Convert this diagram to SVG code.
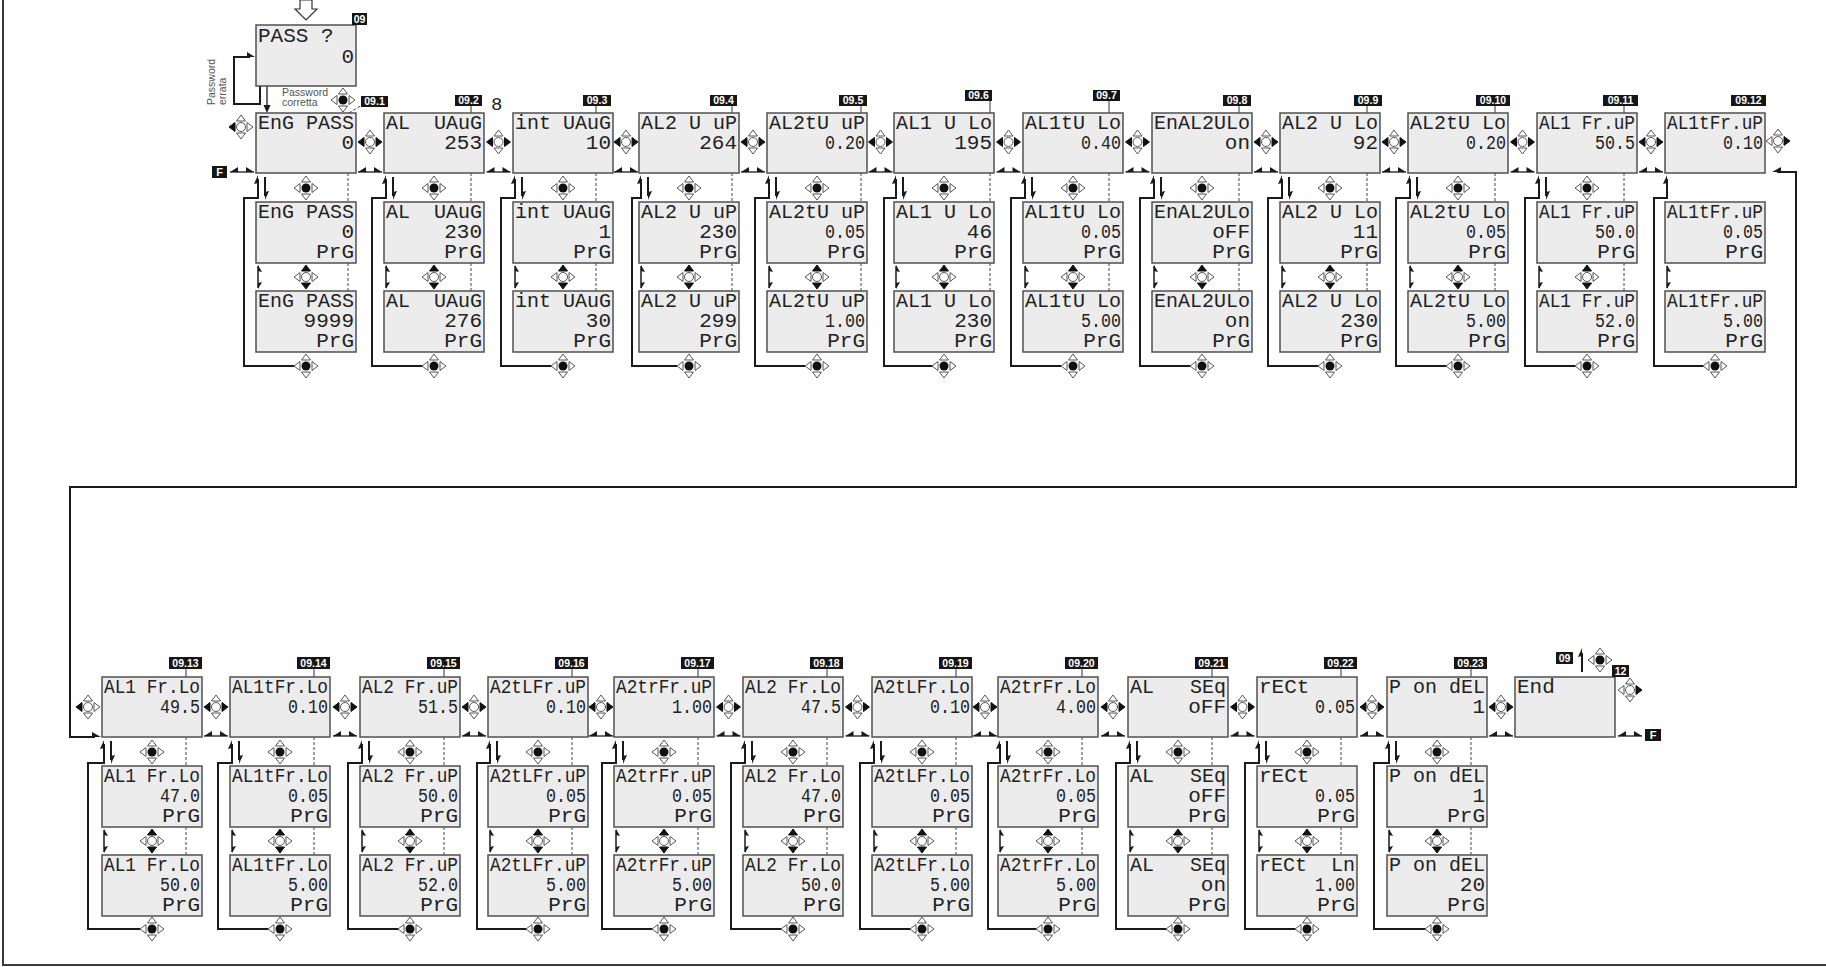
<svg xmlns="http://www.w3.org/2000/svg" width="1826" height="967" viewBox="0 0 1826 967">
<style>
.box{fill:#ececec;stroke:#505050;stroke-width:1.5}
.t{font-family:"Liberation Mono","DejaVu Sans Mono",monospace;font-size:21px;fill:#222;white-space:pre}
.e{text-anchor:end}
.lb{fill:#161616}
.lt{font-family:"Liberation Sans",Arial,sans-serif;font-size:10.5px;font-weight:bold;fill:#fff;text-anchor:middle}
.ln{fill:none;stroke:#1a1a1a;stroke-width:2}
.th{fill:none;stroke:#1a1a1a;stroke-width:1.3}
.ds{fill:none;stroke:#444;stroke-width:1;stroke-dasharray:3 2}
.ah{fill:#1a1a1a}
.kh{fill:#fff;stroke:#555;stroke-width:1}
.kf{fill:#111;stroke:#111;stroke-width:1}
.note{font-family:"Liberation Sans",Arial,sans-serif;font-size:10.5px;fill:#555}
</style>
<defs>
<g id="kc"><polygon class="kh" points="0,-12 -4.5,-6 4.5,-6"/><polygon class="kh" points="0,12 -4.5,6 4.5,6"/><polygon class="kh" points="-12,0 -6,-4.5 -6,4.5"/><polygon class="kh" points="12,0 6,-4.5 6,4.5"/><circle r="4.5" fill="#111"/></g>
<g id="kb"><polygon class="kh" points="0,-12 -4.5,-6 4.5,-6"/><polygon class="kh" points="0,12 -4.5,6 4.5,6"/><polygon class="kf" points="-12,0 -6,-4.5 -6,4.5"/><polygon class="kf" points="12,0 6,-4.5 6,4.5"/><circle r="4.5" class="kh"/></g>
<g id="kv"><polygon class="kf" points="0,-12 -4.5,-6 4.5,-6"/><polygon class="kf" points="0,12 -4.5,6 4.5,6"/><polygon class="kh" points="-12,0 -6,-4.5 -6,4.5"/><polygon class="kh" points="12,0 6,-4.5 6,4.5"/><circle r="4.5" class="kh"/></g>
<g id="kl"><polygon class="kh" points="0,-12 -4.5,-6 4.5,-6"/><polygon class="kh" points="0,12 -4.5,6 4.5,6"/><polygon class="kf" points="-12,0 -6,-4.5 -6,4.5"/><polygon class="kh" points="12,0 6,-4.5 6,4.5"/><circle r="4.5" class="kh"/></g>
<g id="kr"><polygon class="kh" points="0,-12 -4.5,-6 4.5,-6"/><polygon class="kh" points="0,12 -4.5,6 4.5,6"/><polygon class="kh" points="-12,0 -6,-4.5 -6,4.5"/><polygon class="kf" points="12,0 6,-4.5 6,4.5"/><circle r="4.5" class="kh"/></g>
<g id="hp"><path d="M-12,0H12" stroke="#1a1a1a" stroke-width="1.3"/><polygon class="ah" points="-12,0 -4,-5 -4,0"/><polygon class="ah" points="12,0 4,-5 4,0"/></g>
<polygon id="hu" class="ah" points="0,0 -4,9 0,8"/>
<g id="da"><path d="M0,0V19" stroke="#1a1a1a" stroke-width="2"/><polygon class="ah" points="0,23 4,14 0,15"/></g>
<g id="bk"><path d="M0,0V22" stroke="#1a1a1a" stroke-width="1.5"/><polygon class="ah" points="0,-1 4,6 0,5"/><polygon class="ah" points="0,23 4,16 0,17"/></g>
</defs>
<rect width="1826" height="967" fill="#fff"/>
<g id="frame"><path d="M3,0V965H1826" fill="none" stroke="#3a3a3a" stroke-width="2"/></g>

<g id="connectors">
<polygon points="300,0 312,0 312,9 317,9 306,20 295,9 300,9" fill="#fff" stroke="#333" stroke-width="1.2"/>
<path class="ln" d="M260,86V104H234V57H250"/><polygon class="ah" points="255,57 247,52 247,57"/>
<path class="th" d="M267,86V107"/><polygon class="ah" points="267,113 263.5,105 270.5,105"/>
<path class="ds" d="M349,113L362,105"/>
<path class="ln" d="M294,366H244V198H258V179M422,366H372V198H386V179M551,366H501V198H515V179M677,366H632V198H641V179M805,366H755V198H769V179M932,366H884V198H896V179M1061,366H1011V198H1025V179M1190,366H1140V198H1154V179M1318,366H1268V198H1282V179M1446,366H1396V198H1410V179M1575,366H1525V198H1539V179M1703,366H1654V198H1667V179"/>
<path class="ln" d="M140,929H88V763H104V744M268,929H218V763H232V744M398,929H348V763H362V744M526,929H477V763H490V744M652,929H602V763H616V744M781,929H731V763H745V744M910,929H860V763H874V744M1036,929H988V763H1000V744M1166,929H1116V763H1130V744M1295,929H1245V763H1259V744M1425,929H1374V763H1389V744"/>
<g>
<use href="#hu" x="258" y="175"/><use href="#hu" x="386" y="175"/><use href="#hu" x="515" y="175"/><use href="#hu" x="641" y="175"/><use href="#hu" x="769" y="175"/><use href="#hu" x="896" y="175"/><use href="#hu" x="1025" y="175"/><use href="#hu" x="1154" y="175"/><use href="#hu" x="1282" y="175"/><use href="#hu" x="1410" y="175"/><use href="#hu" x="1539" y="175"/><use href="#hu" x="1667" y="175"/>
<use href="#hu" x="104" y="740"/><use href="#hu" x="232" y="740"/><use href="#hu" x="362" y="740"/><use href="#hu" x="490" y="740"/><use href="#hu" x="616" y="740"/><use href="#hu" x="745" y="740"/><use href="#hu" x="874" y="740"/><use href="#hu" x="1000" y="740"/><use href="#hu" x="1130" y="740"/><use href="#hu" x="1259" y="740"/><use href="#hu" x="1389" y="740"/>
<use href="#da" x="265" y="177"/><use href="#da" x="393" y="177"/><use href="#da" x="522" y="177"/><use href="#da" x="648" y="177"/><use href="#da" x="776" y="177"/><use href="#da" x="903" y="177"/><use href="#da" x="1032" y="177"/><use href="#da" x="1161" y="177"/><use href="#da" x="1289" y="177"/><use href="#da" x="1417" y="177"/><use href="#da" x="1546" y="177"/>
<use href="#da" x="111" y="741"/><use href="#da" x="239" y="741"/><use href="#da" x="369" y="741"/><use href="#da" x="497" y="741"/><use href="#da" x="623" y="741"/><use href="#da" x="752" y="741"/><use href="#da" x="881" y="741"/><use href="#da" x="1007" y="741"/><use href="#da" x="1137" y="741"/><use href="#da" x="1266" y="741"/><use href="#da" x="1396" y="741"/>
<use href="#bk" x="258" y="266"/><use href="#bk" x="386" y="266"/><use href="#bk" x="515" y="266"/><use href="#bk" x="641" y="266"/><use href="#bk" x="769" y="266"/><use href="#bk" x="896" y="266"/><use href="#bk" x="1025" y="266"/><use href="#bk" x="1154" y="266"/><use href="#bk" x="1282" y="266"/><use href="#bk" x="1410" y="266"/><use href="#bk" x="1539" y="266"/><use href="#bk" x="1667" y="266"/>
<use href="#bk" x="104" y="830"/><use href="#bk" x="232" y="830"/><use href="#bk" x="362" y="830"/><use href="#bk" x="490" y="830"/><use href="#bk" x="616" y="830"/><use href="#bk" x="745" y="830"/><use href="#bk" x="874" y="830"/><use href="#bk" x="1000" y="830"/><use href="#bk" x="1130" y="830"/><use href="#bk" x="1259" y="830"/><use href="#bk" x="1389" y="830"/>
</g>
<path class="ds" d="M348,173V202M348,263V291M471,173V202M471,263V291M596,173V202M596,263V291M732,173V202M732,263V291M861,173V202M861,263V291M990,173V202M990,263V291M1109,173V202M1109,263V291M1239,173V202M1239,263V291M1367,173V202M1367,263V291M1495,173V202M1495,263V291M1624,173V202M1624,263V291"/>
<path class="ds" d="M186,737V766M186,827V855M314,737V766M314,827V855M444,737V766M444,827V855M572,737V766M572,827V855M698,737V766M698,827V855M827,737V766M827,827V855M956,737V766M956,827V855M1082,737V766M1082,827V855M1212,737V766M1212,827V855M1341,737V766M1341,827V855M1471,737V766M1471,827V855"/>
<path d="M471,106V113M596,106V113M732,106V113M861,106V113M990,101V113M1109,101V113M1239,106V113M1367,106V113M1495,106V113M1624,106V113M186,669V677M314,669V677M444,669V677M572,669V677M698,669V677M827,669V677M956,669V677M1082,669V677M1212,669V677M1341,669V677M1471,669V677" stroke="#333" stroke-width="1"/>
<g>
<use href="#hp" x="242" y="172"/><use href="#hp" x="370" y="172"/><use href="#hp" x="498.5" y="172"/><use href="#hp" x="626" y="172"/><use href="#hp" x="753" y="172"/><use href="#hp" x="880.5" y="172"/><use href="#hp" x="1008.5" y="172"/><use href="#hp" x="1137.5" y="172"/><use href="#hp" x="1266" y="172"/><use href="#hp" x="1394" y="172"/><use href="#hp" x="1522.5" y="172"/><use href="#hp" x="1651" y="172"/>
<use href="#hp" x="216" y="736"/><use href="#hp" x="345" y="736"/><use href="#hp" x="474" y="736"/><use href="#hp" x="601" y="736"/><use href="#hp" x="728.5" y="736"/><use href="#hp" x="857.5" y="736"/><use href="#hp" x="985" y="736"/><use href="#hp" x="1113" y="736"/><use href="#hp" x="1242.5" y="736"/><use href="#hp" x="1372" y="736"/><use href="#hp" x="1501" y="736"/><use href="#hp" x="1630" y="736"/>
</g>
<path class="ln" d="M1777,172H1796V487H70V737H95"/>
<polygon class="ah" points="1772,172 1781,167 1781,172"/>
<polygon class="ah" points="101,737 92,732 92,737"/>
<path class="ln" d="M1582,672V653"/><use href="#hu" x="1582" y="648"/>
</g>

<g id="keys">
<use href="#kl" x="241" y="127"/><use href="#kc" x="343" y="100"/><use href="#kr" x="1778" y="141"/>
<use href="#kb" x="370" y="142"/><use href="#kb" x="498.5" y="142"/><use href="#kb" x="626" y="142"/><use href="#kb" x="753" y="142"/><use href="#kb" x="880.5" y="142"/><use href="#kb" x="1008.5" y="142"/><use href="#kb" x="1137.5" y="142"/><use href="#kb" x="1266" y="142"/><use href="#kb" x="1394" y="142"/><use href="#kb" x="1522.5" y="142"/><use href="#kb" x="1651" y="142"/>
<use href="#kc" x="306" y="188"/><use href="#kc" x="434" y="188"/><use href="#kc" x="563" y="188"/><use href="#kc" x="689" y="188"/><use href="#kc" x="817" y="188"/><use href="#kc" x="944" y="188"/><use href="#kc" x="1073" y="188"/><use href="#kc" x="1202" y="188"/><use href="#kc" x="1330" y="188"/><use href="#kc" x="1458" y="188"/><use href="#kc" x="1587" y="188"/>
<use href="#kv" x="306" y="277"/><use href="#kv" x="434" y="277"/><use href="#kv" x="563" y="277"/><use href="#kv" x="689" y="277"/><use href="#kv" x="817" y="277"/><use href="#kv" x="944" y="277"/><use href="#kv" x="1073" y="277"/><use href="#kv" x="1202" y="277"/><use href="#kv" x="1330" y="277"/><use href="#kv" x="1458" y="277"/><use href="#kv" x="1587" y="277"/>
<use href="#kc" x="306" y="366"/><use href="#kc" x="434" y="366"/><use href="#kc" x="563" y="366"/><use href="#kc" x="689" y="366"/><use href="#kc" x="817" y="366"/><use href="#kc" x="944" y="366"/><use href="#kc" x="1073" y="366"/><use href="#kc" x="1202" y="366"/><use href="#kc" x="1330" y="366"/><use href="#kc" x="1458" y="366"/><use href="#kc" x="1587" y="366"/><use href="#kc" x="1715" y="366"/>
<use href="#kl" x="88" y="707"/><use href="#kr" x="1630" y="690"/><use href="#kc" x="1600" y="660"/>
<use href="#kb" x="216" y="707"/><use href="#kb" x="345" y="707"/><use href="#kb" x="474" y="707"/><use href="#kb" x="601" y="707"/><use href="#kb" x="728.5" y="707"/><use href="#kb" x="857.5" y="707"/><use href="#kb" x="985" y="707"/><use href="#kb" x="1113" y="707"/><use href="#kb" x="1242.5" y="707"/><use href="#kb" x="1372" y="707"/><use href="#kb" x="1501" y="707"/>
<use href="#kc" x="152" y="752"/><use href="#kc" x="280" y="752"/><use href="#kc" x="410" y="752"/><use href="#kc" x="538" y="752"/><use href="#kc" x="664" y="752"/><use href="#kc" x="793" y="752"/><use href="#kc" x="922" y="752"/><use href="#kc" x="1048" y="752"/><use href="#kc" x="1178" y="752"/><use href="#kc" x="1307" y="752"/><use href="#kc" x="1437" y="752"/>
<use href="#kv" x="152" y="841"/><use href="#kv" x="280" y="841"/><use href="#kv" x="410" y="841"/><use href="#kv" x="538" y="841"/><use href="#kv" x="664" y="841"/><use href="#kv" x="793" y="841"/><use href="#kv" x="922" y="841"/><use href="#kv" x="1048" y="841"/><use href="#kv" x="1178" y="841"/><use href="#kv" x="1307" y="841"/><use href="#kv" x="1437" y="841"/>
<use href="#kc" x="152" y="929"/><use href="#kc" x="280" y="929"/><use href="#kc" x="410" y="929"/><use href="#kc" x="538" y="929"/><use href="#kc" x="664" y="929"/><use href="#kc" x="793" y="929"/><use href="#kc" x="922" y="929"/><use href="#kc" x="1048" y="929"/><use href="#kc" x="1178" y="929"/><use href="#kc" x="1307" y="929"/><use href="#kc" x="1437" y="929"/>
</g>

<g id="notes">
<text class="note" x="282" y="96">Password</text>
<text class="note" x="282" y="106">corretta</text>
<text class="note" transform="translate(215,105) rotate(-90)">Password</text>
<text class="note" transform="translate(226,105) rotate(-90)">errata</text>
<text class="t" x="491" y="110" style="font-size:19px">8</text>
</g>

<g id="nodes">
<g id="n09" transform="translate(256,25)"><rect class="box" width="100" height="61"/><text class="t" x="2" y="17">PASS ?</text><text class="t e" x="98" y="38">0</text></g>

<g id="n09-1" transform="translate(256,113)"><rect class="box" width="100" height="60"/><text class="t" x="2" y="16" textLength="96" lengthAdjust="spacingAndGlyphs">EnG PASS</text><text class="t e" x="98" y="36">0</text></g>
<g id="n09-1-a" transform="translate(256,202)"><rect class="box" width="100" height="61"/><text class="t" x="2" y="16" textLength="96" lengthAdjust="spacingAndGlyphs">EnG PASS</text><text class="t e" x="98" y="36">0</text><text class="t e" x="98" y="56">PrG</text></g>
<g id="n09-1-b" transform="translate(256,291)"><rect class="box" width="100" height="61"/><text class="t" x="2" y="16" textLength="96" lengthAdjust="spacingAndGlyphs">EnG PASS</text><text class="t e" x="98" y="36">9999</text><text class="t e" x="98" y="56">PrG</text></g>

<g id="n09-2" transform="translate(384,113)"><rect class="box" width="100" height="60"/><text class="t" x="2" y="16" textLength="96" lengthAdjust="spacingAndGlyphs">AL  UAuG</text><text class="t e" x="98" y="36">253</text></g>
<g id="n09-2-a" transform="translate(384,202)"><rect class="box" width="100" height="61"/><text class="t" x="2" y="16" textLength="96" lengthAdjust="spacingAndGlyphs">AL  UAuG</text><text class="t e" x="98" y="36">230</text><text class="t e" x="98" y="56">PrG</text></g>
<g id="n09-2-b" transform="translate(384,291)"><rect class="box" width="100" height="61"/><text class="t" x="2" y="16" textLength="96" lengthAdjust="spacingAndGlyphs">AL  UAuG</text><text class="t e" x="98" y="36">276</text><text class="t e" x="98" y="56">PrG</text></g>

<g id="n09-3" transform="translate(513,113)"><rect class="box" width="100" height="60"/><text class="t" x="2" y="16" textLength="96" lengthAdjust="spacingAndGlyphs">int UAuG</text><text class="t e" x="98" y="36">10</text></g>
<g id="n09-3-a" transform="translate(513,202)"><rect class="box" width="100" height="61"/><text class="t" x="2" y="16" textLength="96" lengthAdjust="spacingAndGlyphs">int UAuG</text><text class="t e" x="98" y="36">1</text><text class="t e" x="98" y="56">PrG</text></g>
<g id="n09-3-b" transform="translate(513,291)"><rect class="box" width="100" height="61"/><text class="t" x="2" y="16" textLength="96" lengthAdjust="spacingAndGlyphs">int UAuG</text><text class="t e" x="98" y="36">30</text><text class="t e" x="98" y="56">PrG</text></g>

<g id="n09-4" transform="translate(639,113)"><rect class="box" width="100" height="60"/><text class="t" x="2" y="16" textLength="96" lengthAdjust="spacingAndGlyphs">AL2 U uP</text><text class="t e" x="98" y="36">264</text></g>
<g id="n09-4-a" transform="translate(639,202)"><rect class="box" width="100" height="61"/><text class="t" x="2" y="16" textLength="96" lengthAdjust="spacingAndGlyphs">AL2 U uP</text><text class="t e" x="98" y="36">230</text><text class="t e" x="98" y="56">PrG</text></g>
<g id="n09-4-b" transform="translate(639,291)"><rect class="box" width="100" height="61"/><text class="t" x="2" y="16" textLength="96" lengthAdjust="spacingAndGlyphs">AL2 U uP</text><text class="t e" x="98" y="36">299</text><text class="t e" x="98" y="56">PrG</text></g>

<g id="n09-5" transform="translate(767,113)"><rect class="box" width="100" height="60"/><text class="t" x="2" y="16" textLength="96" lengthAdjust="spacingAndGlyphs">AL2tU uP</text><text class="t e" x="98" y="36" textLength="40" lengthAdjust="spacingAndGlyphs">0.20</text></g>
<g id="n09-5-a" transform="translate(767,202)"><rect class="box" width="100" height="61"/><text class="t" x="2" y="16" textLength="96" lengthAdjust="spacingAndGlyphs">AL2tU uP</text><text class="t e" x="98" y="36" textLength="40" lengthAdjust="spacingAndGlyphs">0.05</text><text class="t e" x="98" y="56">PrG</text></g>
<g id="n09-5-b" transform="translate(767,291)"><rect class="box" width="100" height="61"/><text class="t" x="2" y="16" textLength="96" lengthAdjust="spacingAndGlyphs">AL2tU uP</text><text class="t e" x="98" y="36" textLength="40" lengthAdjust="spacingAndGlyphs">1.00</text><text class="t e" x="98" y="56">PrG</text></g>

<g id="n09-6" transform="translate(894,113)"><rect class="box" width="100" height="60"/><text class="t" x="2" y="16" textLength="96" lengthAdjust="spacingAndGlyphs">AL1 U Lo</text><text class="t e" x="98" y="36">195</text></g>
<g id="n09-6-a" transform="translate(894,202)"><rect class="box" width="100" height="61"/><text class="t" x="2" y="16" textLength="96" lengthAdjust="spacingAndGlyphs">AL1 U Lo</text><text class="t e" x="98" y="36">46</text><text class="t e" x="98" y="56">PrG</text></g>
<g id="n09-6-b" transform="translate(894,291)"><rect class="box" width="100" height="61"/><text class="t" x="2" y="16" textLength="96" lengthAdjust="spacingAndGlyphs">AL1 U Lo</text><text class="t e" x="98" y="36">230</text><text class="t e" x="98" y="56">PrG</text></g>

<g id="n09-7" transform="translate(1023,113)"><rect class="box" width="100" height="60"/><text class="t" x="2" y="16" textLength="96" lengthAdjust="spacingAndGlyphs">AL1tU Lo</text><text class="t e" x="98" y="36" textLength="40" lengthAdjust="spacingAndGlyphs">0.40</text></g>
<g id="n09-7-a" transform="translate(1023,202)"><rect class="box" width="100" height="61"/><text class="t" x="2" y="16" textLength="96" lengthAdjust="spacingAndGlyphs">AL1tU Lo</text><text class="t e" x="98" y="36" textLength="40" lengthAdjust="spacingAndGlyphs">0.05</text><text class="t e" x="98" y="56">PrG</text></g>
<g id="n09-7-b" transform="translate(1023,291)"><rect class="box" width="100" height="61"/><text class="t" x="2" y="16" textLength="96" lengthAdjust="spacingAndGlyphs">AL1tU Lo</text><text class="t e" x="98" y="36" textLength="40" lengthAdjust="spacingAndGlyphs">5.00</text><text class="t e" x="98" y="56">PrG</text></g>

<g id="n09-8" transform="translate(1152,113)"><rect class="box" width="100" height="60"/><text class="t" x="2" y="16" textLength="96" lengthAdjust="spacingAndGlyphs">EnAL2ULo</text><text class="t e" x="98" y="36">on</text></g>
<g id="n09-8-a" transform="translate(1152,202)"><rect class="box" width="100" height="61"/><text class="t" x="2" y="16" textLength="96" lengthAdjust="spacingAndGlyphs">EnAL2ULo</text><text class="t e" x="98" y="36">oFF</text><text class="t e" x="98" y="56">PrG</text></g>
<g id="n09-8-b" transform="translate(1152,291)"><rect class="box" width="100" height="61"/><text class="t" x="2" y="16" textLength="96" lengthAdjust="spacingAndGlyphs">EnAL2ULo</text><text class="t e" x="98" y="36">on</text><text class="t e" x="98" y="56">PrG</text></g>

<g id="n09-9" transform="translate(1280,113)"><rect class="box" width="100" height="60"/><text class="t" x="2" y="16" textLength="96" lengthAdjust="spacingAndGlyphs">AL2 U Lo</text><text class="t e" x="98" y="36">92</text></g>
<g id="n09-9-a" transform="translate(1280,202)"><rect class="box" width="100" height="61"/><text class="t" x="2" y="16" textLength="96" lengthAdjust="spacingAndGlyphs">AL2 U Lo</text><text class="t e" x="98" y="36">11</text><text class="t e" x="98" y="56">PrG</text></g>
<g id="n09-9-b" transform="translate(1280,291)"><rect class="box" width="100" height="61"/><text class="t" x="2" y="16" textLength="96" lengthAdjust="spacingAndGlyphs">AL2 U Lo</text><text class="t e" x="98" y="36">230</text><text class="t e" x="98" y="56">PrG</text></g>

<g id="n09-10" transform="translate(1408,113)"><rect class="box" width="100" height="60"/><text class="t" x="2" y="16" textLength="96" lengthAdjust="spacingAndGlyphs">AL2tU Lo</text><text class="t e" x="98" y="36" textLength="40" lengthAdjust="spacingAndGlyphs">0.20</text></g>
<g id="n09-10-a" transform="translate(1408,202)"><rect class="box" width="100" height="61"/><text class="t" x="2" y="16" textLength="96" lengthAdjust="spacingAndGlyphs">AL2tU Lo</text><text class="t e" x="98" y="36" textLength="40" lengthAdjust="spacingAndGlyphs">0.05</text><text class="t e" x="98" y="56">PrG</text></g>
<g id="n09-10-b" transform="translate(1408,291)"><rect class="box" width="100" height="61"/><text class="t" x="2" y="16" textLength="96" lengthAdjust="spacingAndGlyphs">AL2tU Lo</text><text class="t e" x="98" y="36" textLength="40" lengthAdjust="spacingAndGlyphs">5.00</text><text class="t e" x="98" y="56">PrG</text></g>

<g id="n09-11" transform="translate(1537,113)"><rect class="box" width="100" height="60"/><text class="t" x="2" y="16" textLength="96" lengthAdjust="spacingAndGlyphs">AL1 Fr.uP</text><text class="t e" x="98" y="36" textLength="40" lengthAdjust="spacingAndGlyphs">50.5</text></g>
<g id="n09-11-a" transform="translate(1537,202)"><rect class="box" width="100" height="61"/><text class="t" x="2" y="16" textLength="96" lengthAdjust="spacingAndGlyphs">AL1 Fr.uP</text><text class="t e" x="98" y="36" textLength="40" lengthAdjust="spacingAndGlyphs">50.0</text><text class="t e" x="98" y="56">PrG</text></g>
<g id="n09-11-b" transform="translate(1537,291)"><rect class="box" width="100" height="61"/><text class="t" x="2" y="16" textLength="96" lengthAdjust="spacingAndGlyphs">AL1 Fr.uP</text><text class="t e" x="98" y="36" textLength="40" lengthAdjust="spacingAndGlyphs">52.0</text><text class="t e" x="98" y="56">PrG</text></g>

<g id="n09-12" transform="translate(1665,113)"><rect class="box" width="100" height="60"/><text class="t" x="2" y="16" textLength="96" lengthAdjust="spacingAndGlyphs">AL1tFr.uP</text><text class="t e" x="98" y="36" textLength="40" lengthAdjust="spacingAndGlyphs">0.10</text></g>
<g id="n09-12-a" transform="translate(1665,202)"><rect class="box" width="100" height="61"/><text class="t" x="2" y="16" textLength="96" lengthAdjust="spacingAndGlyphs">AL1tFr.uP</text><text class="t e" x="98" y="36" textLength="40" lengthAdjust="spacingAndGlyphs">0.05</text><text class="t e" x="98" y="56">PrG</text></g>
<g id="n09-12-b" transform="translate(1665,291)"><rect class="box" width="100" height="61"/><text class="t" x="2" y="16" textLength="96" lengthAdjust="spacingAndGlyphs">AL1tFr.uP</text><text class="t e" x="98" y="36" textLength="40" lengthAdjust="spacingAndGlyphs">5.00</text><text class="t e" x="98" y="56">PrG</text></g>

<g id="n09-13" transform="translate(102,677)"><rect class="box" width="100" height="60"/><text class="t" x="2" y="16" textLength="96" lengthAdjust="spacingAndGlyphs">AL1 Fr.Lo</text><text class="t e" x="98" y="36" textLength="40" lengthAdjust="spacingAndGlyphs">49.5</text></g>
<g id="n09-13-a" transform="translate(102,766)"><rect class="box" width="100" height="61"/><text class="t" x="2" y="16" textLength="96" lengthAdjust="spacingAndGlyphs">AL1 Fr.Lo</text><text class="t e" x="98" y="36" textLength="40" lengthAdjust="spacingAndGlyphs">47.0</text><text class="t e" x="98" y="56">PrG</text></g>
<g id="n09-13-b" transform="translate(102,855)"><rect class="box" width="100" height="61"/><text class="t" x="2" y="16" textLength="96" lengthAdjust="spacingAndGlyphs">AL1 Fr.Lo</text><text class="t e" x="98" y="36" textLength="40" lengthAdjust="spacingAndGlyphs">50.0</text><text class="t e" x="98" y="56">PrG</text></g>

<g id="n09-14" transform="translate(230,677)"><rect class="box" width="100" height="60"/><text class="t" x="2" y="16" textLength="96" lengthAdjust="spacingAndGlyphs">AL1tFr.Lo</text><text class="t e" x="98" y="36" textLength="40" lengthAdjust="spacingAndGlyphs">0.10</text></g>
<g id="n09-14-a" transform="translate(230,766)"><rect class="box" width="100" height="61"/><text class="t" x="2" y="16" textLength="96" lengthAdjust="spacingAndGlyphs">AL1tFr.Lo</text><text class="t e" x="98" y="36" textLength="40" lengthAdjust="spacingAndGlyphs">0.05</text><text class="t e" x="98" y="56">PrG</text></g>
<g id="n09-14-b" transform="translate(230,855)"><rect class="box" width="100" height="61"/><text class="t" x="2" y="16" textLength="96" lengthAdjust="spacingAndGlyphs">AL1tFr.Lo</text><text class="t e" x="98" y="36" textLength="40" lengthAdjust="spacingAndGlyphs">5.00</text><text class="t e" x="98" y="56">PrG</text></g>

<g id="n09-15" transform="translate(360,677)"><rect class="box" width="100" height="60"/><text class="t" x="2" y="16" textLength="96" lengthAdjust="spacingAndGlyphs">AL2 Fr.uP</text><text class="t e" x="98" y="36" textLength="40" lengthAdjust="spacingAndGlyphs">51.5</text></g>
<g id="n09-15-a" transform="translate(360,766)"><rect class="box" width="100" height="61"/><text class="t" x="2" y="16" textLength="96" lengthAdjust="spacingAndGlyphs">AL2 Fr.uP</text><text class="t e" x="98" y="36" textLength="40" lengthAdjust="spacingAndGlyphs">50.0</text><text class="t e" x="98" y="56">PrG</text></g>
<g id="n09-15-b" transform="translate(360,855)"><rect class="box" width="100" height="61"/><text class="t" x="2" y="16" textLength="96" lengthAdjust="spacingAndGlyphs">AL2 Fr.uP</text><text class="t e" x="98" y="36" textLength="40" lengthAdjust="spacingAndGlyphs">52.0</text><text class="t e" x="98" y="56">PrG</text></g>

<g id="n09-16" transform="translate(488,677)"><rect class="box" width="100" height="60"/><text class="t" x="2" y="16" textLength="96" lengthAdjust="spacingAndGlyphs">A2tLFr.uP</text><text class="t e" x="98" y="36" textLength="40" lengthAdjust="spacingAndGlyphs">0.10</text></g>
<g id="n09-16-a" transform="translate(488,766)"><rect class="box" width="100" height="61"/><text class="t" x="2" y="16" textLength="96" lengthAdjust="spacingAndGlyphs">A2tLFr.uP</text><text class="t e" x="98" y="36" textLength="40" lengthAdjust="spacingAndGlyphs">0.05</text><text class="t e" x="98" y="56">PrG</text></g>
<g id="n09-16-b" transform="translate(488,855)"><rect class="box" width="100" height="61"/><text class="t" x="2" y="16" textLength="96" lengthAdjust="spacingAndGlyphs">A2tLFr.uP</text><text class="t e" x="98" y="36" textLength="40" lengthAdjust="spacingAndGlyphs">5.00</text><text class="t e" x="98" y="56">PrG</text></g>

<g id="n09-17" transform="translate(614,677)"><rect class="box" width="100" height="60"/><text class="t" x="2" y="16" textLength="96" lengthAdjust="spacingAndGlyphs">A2trFr.uP</text><text class="t e" x="98" y="36" textLength="40" lengthAdjust="spacingAndGlyphs">1.00</text></g>
<g id="n09-17-a" transform="translate(614,766)"><rect class="box" width="100" height="61"/><text class="t" x="2" y="16" textLength="96" lengthAdjust="spacingAndGlyphs">A2trFr.uP</text><text class="t e" x="98" y="36" textLength="40" lengthAdjust="spacingAndGlyphs">0.05</text><text class="t e" x="98" y="56">PrG</text></g>
<g id="n09-17-b" transform="translate(614,855)"><rect class="box" width="100" height="61"/><text class="t" x="2" y="16" textLength="96" lengthAdjust="spacingAndGlyphs">A2trFr.uP</text><text class="t e" x="98" y="36" textLength="40" lengthAdjust="spacingAndGlyphs">5.00</text><text class="t e" x="98" y="56">PrG</text></g>

<g id="n09-18" transform="translate(743,677)"><rect class="box" width="100" height="60"/><text class="t" x="2" y="16" textLength="96" lengthAdjust="spacingAndGlyphs">AL2 Fr.Lo</text><text class="t e" x="98" y="36" textLength="40" lengthAdjust="spacingAndGlyphs">47.5</text></g>
<g id="n09-18-a" transform="translate(743,766)"><rect class="box" width="100" height="61"/><text class="t" x="2" y="16" textLength="96" lengthAdjust="spacingAndGlyphs">AL2 Fr.Lo</text><text class="t e" x="98" y="36" textLength="40" lengthAdjust="spacingAndGlyphs">47.0</text><text class="t e" x="98" y="56">PrG</text></g>
<g id="n09-18-b" transform="translate(743,855)"><rect class="box" width="100" height="61"/><text class="t" x="2" y="16" textLength="96" lengthAdjust="spacingAndGlyphs">AL2 Fr.Lo</text><text class="t e" x="98" y="36" textLength="40" lengthAdjust="spacingAndGlyphs">50.0</text><text class="t e" x="98" y="56">PrG</text></g>

<g id="n09-19" transform="translate(872,677)"><rect class="box" width="100" height="60"/><text class="t" x="2" y="16" textLength="96" lengthAdjust="spacingAndGlyphs">A2tLFr.Lo</text><text class="t e" x="98" y="36" textLength="40" lengthAdjust="spacingAndGlyphs">0.10</text></g>
<g id="n09-19-a" transform="translate(872,766)"><rect class="box" width="100" height="61"/><text class="t" x="2" y="16" textLength="96" lengthAdjust="spacingAndGlyphs">A2tLFr.Lo</text><text class="t e" x="98" y="36" textLength="40" lengthAdjust="spacingAndGlyphs">0.05</text><text class="t e" x="98" y="56">PrG</text></g>
<g id="n09-19-b" transform="translate(872,855)"><rect class="box" width="100" height="61"/><text class="t" x="2" y="16" textLength="96" lengthAdjust="spacingAndGlyphs">A2tLFr.Lo</text><text class="t e" x="98" y="36" textLength="40" lengthAdjust="spacingAndGlyphs">5.00</text><text class="t e" x="98" y="56">PrG</text></g>

<g id="n09-20" transform="translate(998,677)"><rect class="box" width="100" height="60"/><text class="t" x="2" y="16" textLength="96" lengthAdjust="spacingAndGlyphs">A2trFr.Lo</text><text class="t e" x="98" y="36" textLength="40" lengthAdjust="spacingAndGlyphs">4.00</text></g>
<g id="n09-20-a" transform="translate(998,766)"><rect class="box" width="100" height="61"/><text class="t" x="2" y="16" textLength="96" lengthAdjust="spacingAndGlyphs">A2trFr.Lo</text><text class="t e" x="98" y="36" textLength="40" lengthAdjust="spacingAndGlyphs">0.05</text><text class="t e" x="98" y="56">PrG</text></g>
<g id="n09-20-b" transform="translate(998,855)"><rect class="box" width="100" height="61"/><text class="t" x="2" y="16" textLength="96" lengthAdjust="spacingAndGlyphs">A2trFr.Lo</text><text class="t e" x="98" y="36" textLength="40" lengthAdjust="spacingAndGlyphs">5.00</text><text class="t e" x="98" y="56">PrG</text></g>

<g id="n09-21" transform="translate(1128,677)"><rect class="box" width="100" height="60"/><text class="t" x="2" y="16" textLength="96" lengthAdjust="spacingAndGlyphs">AL   SEq</text><text class="t e" x="98" y="36">oFF</text></g>
<g id="n09-21-a" transform="translate(1128,766)"><rect class="box" width="100" height="61"/><text class="t" x="2" y="16" textLength="96" lengthAdjust="spacingAndGlyphs">AL   SEq</text><text class="t e" x="98" y="36">oFF</text><text class="t e" x="98" y="56">PrG</text></g>
<g id="n09-21-b" transform="translate(1128,855)"><rect class="box" width="100" height="61"/><text class="t" x="2" y="16" textLength="96" lengthAdjust="spacingAndGlyphs">AL   SEq</text><text class="t e" x="98" y="36">on</text><text class="t e" x="98" y="56">PrG</text></g>

<g id="n09-22" transform="translate(1257,677)"><rect class="box" width="100" height="60"/><text class="t" x="2" y="16">rECt</text><text class="t e" x="98" y="36" textLength="40" lengthAdjust="spacingAndGlyphs">0.05</text></g>
<g id="n09-22-a" transform="translate(1257,766)"><rect class="box" width="100" height="61"/><text class="t" x="2" y="16">rECt</text><text class="t e" x="98" y="36" textLength="40" lengthAdjust="spacingAndGlyphs">0.05</text><text class="t e" x="98" y="56">PrG</text></g>
<g id="n09-22-b" transform="translate(1257,855)"><rect class="box" width="100" height="61"/><text class="t" x="2" y="16" textLength="96" lengthAdjust="spacingAndGlyphs">rECt  Ln</text><text class="t e" x="98" y="36" textLength="40" lengthAdjust="spacingAndGlyphs">1.00</text><text class="t e" x="98" y="56">PrG</text></g>

<g id="n09-23" transform="translate(1387,677)"><rect class="box" width="100" height="60"/><text class="t" x="2" y="16" textLength="96" lengthAdjust="spacingAndGlyphs">P on dEL</text><text class="t e" x="98" y="36">1</text></g>
<g id="n09-23-a" transform="translate(1387,766)"><rect class="box" width="100" height="61"/><text class="t" x="2" y="16" textLength="96" lengthAdjust="spacingAndGlyphs">P on dEL</text><text class="t e" x="98" y="36">1</text><text class="t e" x="98" y="56">PrG</text></g>
<g id="n09-23-b" transform="translate(1387,855)"><rect class="box" width="100" height="61"/><text class="t" x="2" y="16" textLength="96" lengthAdjust="spacingAndGlyphs">P on dEL</text><text class="t e" x="98" y="36">20</text><text class="t e" x="98" y="56">PrG</text></g>

<g id="n-end" transform="translate(1515,677)"><rect class="box" width="100" height="60"/><text class="t" x="2" y="16">End</text></g>
</g>

<g id="labels">
<g><rect class="lb" x="352" y="13" width="15" height="12"/><text class="lt" x="359.5" y="22.5">09</text></g>
<g><rect class="lb" x="361" y="96" width="27" height="11"/><text class="lt" x="374.5" y="105">09.1</text></g>
<g><rect class="lb" x="455" y="95" width="27" height="11"/><text class="lt" x="468.5" y="104">09.2</text></g>
<g><rect class="lb" x="583" y="95" width="28" height="11"/><text class="lt" x="597" y="104">09.3</text></g>
<g><rect class="lb" x="710" y="95" width="27" height="11"/><text class="lt" x="723.5" y="104">09.4</text></g>
<g><rect class="lb" x="839" y="95" width="28" height="11"/><text class="lt" x="853" y="104">09.5</text></g>
<g><rect class="lb" x="965" y="90" width="27" height="11"/><text class="lt" x="978.5" y="99">09.6</text></g>
<g><rect class="lb" x="1093" y="90" width="27" height="11"/><text class="lt" x="1106.5" y="99">09.7</text></g>
<g><rect class="lb" x="1223" y="95" width="28" height="11"/><text class="lt" x="1237" y="104">09.8</text></g>
<g><rect class="lb" x="1354" y="95" width="28" height="11"/><text class="lt" x="1368" y="104">09.9</text></g>
<g><rect class="lb" x="1476" y="95" width="34" height="11"/><text class="lt" x="1493" y="104">09.10</text></g>
<g><rect class="lb" x="1603" y="95" width="35" height="11"/><text class="lt" x="1620.5" y="104">09.11</text></g>
<g><rect class="lb" x="1731" y="95" width="35" height="11"/><text class="lt" x="1748.5" y="104">09.12</text></g>
<g><rect class="lb" x="169" y="657" width="33" height="12"/><text class="lt" x="185.5" y="666.5">09.13</text></g>
<g><rect class="lb" x="297" y="657" width="33" height="12"/><text class="lt" x="313.5" y="666.5">09.14</text></g>
<g><rect class="lb" x="427" y="657" width="33" height="12"/><text class="lt" x="443.5" y="666.5">09.15</text></g>
<g><rect class="lb" x="555" y="657" width="33" height="12"/><text class="lt" x="571.5" y="666.5">09.16</text></g>
<g><rect class="lb" x="681" y="657" width="33" height="12"/><text class="lt" x="697.5" y="666.5">09.17</text></g>
<g><rect class="lb" x="810" y="657" width="33" height="12"/><text class="lt" x="826.5" y="666.5">09.18</text></g>
<g><rect class="lb" x="939" y="657" width="33" height="12"/><text class="lt" x="955.5" y="666.5">09.19</text></g>
<g><rect class="lb" x="1065" y="657" width="33" height="12"/><text class="lt" x="1081.5" y="666.5">09.20</text></g>
<g><rect class="lb" x="1195" y="657" width="33" height="12"/><text class="lt" x="1211.5" y="666.5">09.21</text></g>
<g><rect class="lb" x="1324" y="657" width="33" height="12"/><text class="lt" x="1340.5" y="666.5">09.22</text></g>
<g><rect class="lb" x="1454" y="657" width="33" height="12"/><text class="lt" x="1470.5" y="666.5">09.23</text></g>
<g><rect class="lb" x="1556" y="652" width="17" height="12"/><text class="lt" x="1564.5" y="661.5">09</text></g>
<g><rect class="lb" x="1612" y="665" width="17" height="12"/><text class="lt" x="1620.5" y="674.5">12</text></g>
<g><rect class="lb" x="212" y="166" width="15" height="12"/><text class="lt" x="219.5" y="176" style="font-size:11px">F</text></g>
<g><rect class="lb" x="1645" y="729" width="16" height="12"/><text class="lt" x="1653" y="739" style="font-size:11px">F</text></g>
</g>
</svg>
